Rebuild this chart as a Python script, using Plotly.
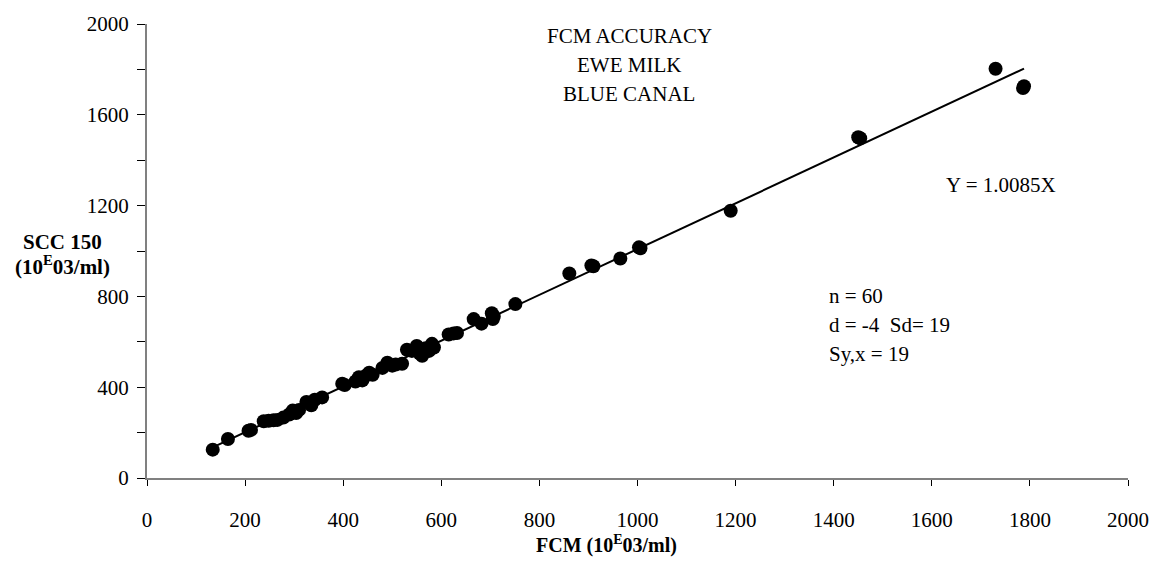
import plotly.graph_objects as go

# FCM reference counts (x) vs SCC 150 counts (y), 10^3 cells/ml
fcm = [134, 165, 207, 212, 238, 248, 258, 266, 278, 290, 297, 304, 310,
       325, 335, 342, 357, 398, 403, 425, 432, 439, 447, 453, 460,
       480, 490, 500, 507, 520, 530, 540, 550, 556, 561, 568, 575, 581, 585,
       615, 625, 632, 666, 682, 703, 707, 705, 751, 861, 906, 910, 965,
       1003, 1006, 1190, 1450, 1454, 1730, 1786, 1788]
scc = [125, 172, 208, 212, 250, 252, 254, 256, 266, 280, 297, 286, 300,
       335, 320, 345, 355, 415, 410, 425, 444, 430, 452, 464, 455,
       485, 508, 495, 500, 503, 565, 560, 582, 548, 538, 572, 560, 591, 575,
       632, 637, 639, 700, 680, 726, 712, 700, 766, 901, 936, 933, 967,
       1016, 1012, 1177, 1501, 1497, 1803, 1718, 1726]

slope = 1.0085
x_ticks = list(range(0, 2001, 200))
y_ticks = list(range(0, 2001, 400))

FONT = "Liberation Serif, Times New Roman, serif"
W, H = 1161, 562
L, R, T, B = 147, 29, 21, 84
pw, ph = W - L - R, H - T - B


def px(xp):
    return (xp - L) / pw


def py(yp):
    return (H - B - yp) / ph


fig = go.Figure()

# fitted line through the origin
x_line = [min(fcm), max(fcm)]
y_line = [slope * v for v in x_line]
fig.add_trace(go.Scatter(x=x_line, y=y_line, mode="lines",
                         line=dict(color="black", width=2),
                         hoverinfo="skip", showlegend=False))

fig.add_trace(go.Scatter(x=fcm, y=scc, mode="markers",
                         marker=dict(color="black", size=14, line=dict(width=0)),
                         showlegend=False))

annotations = []
title_lines = ["FCM ACCURACY", "EWE MILK", "BLUE CANAL"]
for i, t in enumerate(title_lines):
    annotations.append(dict(text=t, x=px(631), y=py(33 + 29 * i), xref="paper", yref="paper",
                            xanchor="center", yanchor="middle", showarrow=False,
                            font=dict(size=21, family=FONT, color="black")))

annotations.append(dict(text="Y = " + f"{slope:.4f}" + "X", x=px(947), y=py(183),
                        xref="paper", yref="paper", xanchor="left", yanchor="middle",
                        showarrow=False, font=dict(size=21, family=FONT, color="black")))

stats = ["n = 60", "d = -4&nbsp;&nbsp;Sd= 19", "Sy,x = 19"]
for i, t in enumerate(stats):
    annotations.append(dict(text=t, x=px(830), y=py(295 + 29 * i), xref="paper", yref="paper",
                            xanchor="left", yanchor="middle", showarrow=False,
                            font=dict(size=21, family=FONT, color="black")))

annotations.append(dict(text="<b>SCC 150</b>", x=px(62), y=py(240), xref="paper", yref="paper",
                        xanchor="center", yanchor="middle", showarrow=False,
                        font=dict(size=21, family=FONT, color="black")))
annotations.append(dict(text="<b>(10<sup>E</sup>03/ml)</b>", x=px(62), y=py(264), xref="paper",
                        yref="paper", xanchor="center", yanchor="middle", showarrow=False,
                        font=dict(size=21, family=FONT, color="black")))
annotations.append(dict(text="<b>FCM (10<sup>E</sup>03/ml)</b>", x=px(608), y=py(545), xref="paper",
                        yref="paper", xanchor="center", yanchor="middle", showarrow=False,
                        font=dict(size=20, family=FONT, color="black")))

fig.update_layout(
    width=W, height=H,
    margin=dict(l=L, r=R, t=T, b=B),
    paper_bgcolor="white", plot_bgcolor="white",
    font=dict(family=FONT, size=21, color="black"),
    annotations=annotations,
    xaxis=dict(range=[0, 2000], tickvals=x_ticks,
               showgrid=False, zeroline=False, showline=True, linecolor="#808080", linewidth=2,
               ticks="outside", ticklen=6, tickcolor="black", tickwidth=1,
               ticklabelstandoff=16, fixedrange=True),
    yaxis=dict(range=[0, 2000], tickvals=y_ticks,
               showgrid=False, zeroline=False, showline=True, linecolor="#808080", linewidth=2,
               ticks="outside", ticklen=8, tickcolor="black", tickwidth=1,
               minor=dict(dtick=200, tick0=0, ticks="outside", ticklen=8,
                          tickcolor="black", tickwidth=1, showgrid=False),
               ticklabelstandoff=4, fixedrange=True),
)

fig.write_html("out.html")
